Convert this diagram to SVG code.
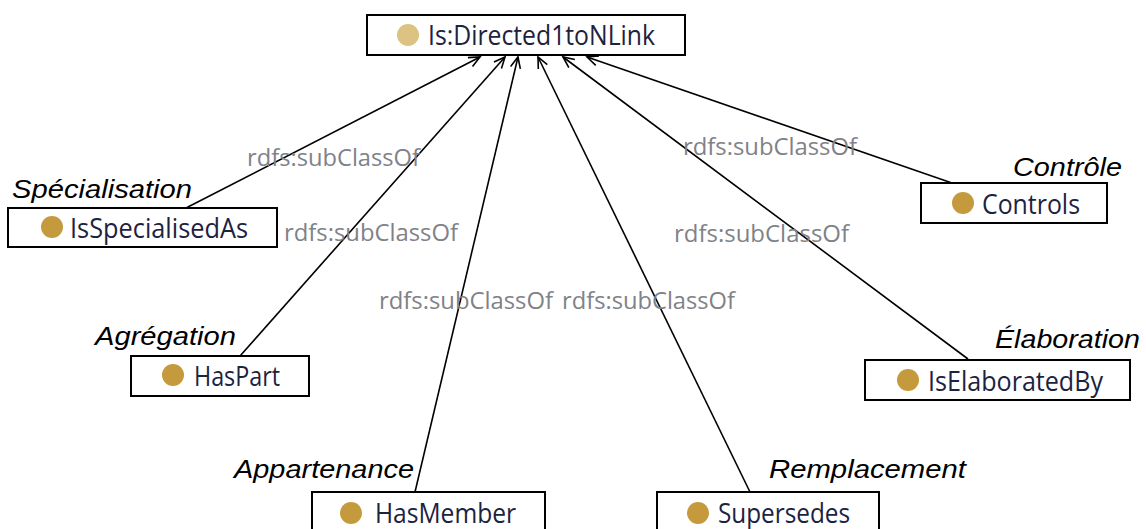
<svg xmlns="http://www.w3.org/2000/svg" width="1146" height="529" viewBox="0 0 1146 529">
<style>
.box{fill:#fff;stroke:#000;stroke-width:2}
.dot{fill:#c49a3c}
.dot0{fill:#dcc381}
.nt{font-family:"Open Sans","Noto Sans",sans-serif;font-size:28px;fill:#1c2340}
.el{font-family:"Open Sans","Noto Sans",sans-serif;font-size:24px;fill:#7f8288}
.it{font-family:"Liberation Sans",Arial,sans-serif;font-style:italic;font-size:25px;fill:#000}
.edge{stroke:#000;stroke-width:1.6;fill:none;marker-end:url(#arr)}
</style>
<defs>
<marker id="arr" markerUnits="userSpaceOnUse" markerWidth="14" markerHeight="12" refX="12" refY="6" orient="auto">
<path d="M1,1 L12,6 L1,11" fill="none" stroke="#000" stroke-width="1.6"/>
</marker>
</defs>
<rect width="1146" height="529" fill="#fff"/>
<g id="connectors">
<line class="edge" x1="186" y1="208" x2="480" y2="57"/>
<line class="edge" x1="240" y1="356" x2="505" y2="57"/>
<line class="edge" x1="415" y1="492" x2="518" y2="57"/>
<line class="edge" x1="750" y1="492" x2="538" y2="57"/>
<line class="edge" x1="968" y1="359" x2="563" y2="57"/>
<line class="edge" x1="952" y1="183" x2="587" y2="57"/>
</g>
<g id="edge-labels">
<text class="el" x="247" y="166" textLength="173" lengthAdjust="spacingAndGlyphs">rdfs:subClassOf</text>
<text class="el" x="284" y="241" textLength="174" lengthAdjust="spacingAndGlyphs">rdfs:subClassOf</text>
<text class="el" x="379" y="309" textLength="174" lengthAdjust="spacingAndGlyphs">rdfs:subClassOf</text>
<text class="el" x="562" y="309" textLength="173" lengthAdjust="spacingAndGlyphs">rdfs:subClassOf</text>
<text class="el" x="674" y="242" textLength="175" lengthAdjust="spacingAndGlyphs">rdfs:subClassOf</text>
<text class="el" x="683" y="155" textLength="174" lengthAdjust="spacingAndGlyphs">rdfs:subClassOf</text>
</g>
<g id="annotations">
<text class="it" x="12" y="198" textLength="180" lengthAdjust="spacingAndGlyphs">Spécialisation</text>
<text class="it" x="1013" y="176" textLength="109" lengthAdjust="spacingAndGlyphs">Contrôle</text>
<text class="it" x="95" y="345" textLength="141" lengthAdjust="spacingAndGlyphs">Agrégation</text>
<text class="it" x="995" y="348" textLength="145" lengthAdjust="spacingAndGlyphs">Élaboration</text>
<text class="it" x="234" y="478" textLength="180" lengthAdjust="spacingAndGlyphs">Appartenance</text>
<text class="it" x="769" y="478" textLength="197" lengthAdjust="spacingAndGlyphs">Remplacement</text>
</g>
<g id="node-Directed1toNLink">
<rect class="box" x="367" y="15" width="318" height="40"/>
<circle class="dot0" cx="408" cy="35" r="11"/>
<text class="nt" x="428" y="45" textLength="227" lengthAdjust="spacingAndGlyphs">Is:Directed1toNLink</text>
</g>
<g id="node-IsSpecialisedAs">
<rect class="box" x="8" y="208" width="269" height="39"/>
<circle class="dot" cx="52" cy="227" r="11"/>
<text class="nt" x="70" y="238" textLength="178" lengthAdjust="spacingAndGlyphs">IsSpecialisedAs</text>
</g>
<g id="node-HasPart">
<rect class="box" x="131" y="356" width="178" height="40"/>
<circle class="dot" cx="173" cy="375" r="11"/>
<text class="nt" x="194" y="386" textLength="86" lengthAdjust="spacingAndGlyphs">HasPart</text>
</g>
<g id="node-HasMember">
<rect class="box" x="312" y="492" width="233" height="45"/>
<circle class="dot" cx="351" cy="513" r="11"/>
<text class="nt" x="375" y="523" textLength="141" lengthAdjust="spacingAndGlyphs">HasMember</text>
</g>
<g id="node-Supersedes">
<rect class="box" x="657" y="492" width="222" height="45"/>
<circle class="dot" cx="698" cy="513" r="11"/>
<text class="nt" x="718" y="523" textLength="132" lengthAdjust="spacingAndGlyphs">Supersedes</text>
</g>
<g id="node-IsElaboratedBy">
<rect class="box" x="865" y="360" width="265" height="40"/>
<circle class="dot" cx="908" cy="380" r="11"/>
<text class="nt" x="928" y="391" textLength="175" lengthAdjust="spacingAndGlyphs">IsElaboratedBy</text>
</g>
<g id="node-Controls">
<rect class="box" x="921" y="183" width="186" height="40"/>
<circle class="dot" cx="963" cy="203" r="11"/>
<text class="nt" x="982" y="214" textLength="98" lengthAdjust="spacingAndGlyphs">Controls</text>
</g>
</svg>
